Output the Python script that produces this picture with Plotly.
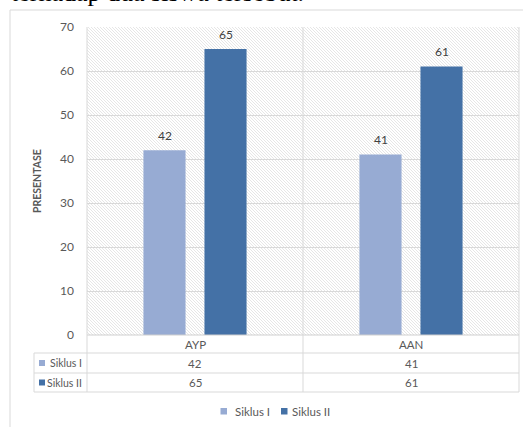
import plotly.graph_objects as go

# ---- data ----
students = ["AYP", "AAN"]
series_names = ["Siklus I", "Siklus II"]
siklus_1 = [42, 41]
siklus_2 = [65, 61]
y_ticks = [0, 10, 20, 30, 40, 50, 60, 70]
y_title = "PRESENTASE"
caption = "terhadap dua siswa tersebut."

colors = ["#97abd3", "#4471a6"]
values = [siklus_1, siklus_2]

W, H = 523, 427
ML, MR, MT, MB = 87, 4, 27, 92
PW, PH = W - ML - MR, H - MT - MB
GRID = "#d9d9d9"
TXT = "#595959"
FONT = "Lato"


def fx(px):
    return (px - ML) / PW


def fy(py):
    return (H - MB - py) / PH


fig = go.Figure()
for name, vals, col in zip(series_names, values, colors):
    fig.add_trace(go.Bar(x=students, y=vals, name=name, marker=dict(color=col, line=dict(width=0)),
                         showlegend=False, hoverinfo="x+y+name"))

shapes = []
annotations = []

# diagonal hatch behind the plot area
left, right, top, bottom = ML, W - MR, MT, H - MB
step = 3
parts = []
c = left - bottom
while c <= right - top:
    x0 = max(left, top + c)
    x1 = min(right, bottom + c)
    if x1 > x0:
        parts.append(f"M{fx(x0):.5f},{fy(x0 - c):.5f} L{fx(x1):.5f},{fy(x1 - c):.5f}")
    c += step
shapes.append(dict(type="path", xref="paper", yref="paper", path=" ".join(parts),
                   line=dict(color="#e6e6e6", width=1), layer="below"))

# outer frame of the chart
shapes.append(dict(type="path", xref="paper", yref="paper",
                   path=f"M{fx(10)},{fy(H + 5)} L{fx(10)},{fy(10)} L{fx(W + 5)},{fy(10)}",
                   line=dict(color=GRID, width=1)))

# table grid
row_y = [335, 353, 373, 392]
col_x = [34, 87, 303, 519]


def hline(y, x0, x1, color=GRID):
    shapes.append(dict(type="line", xref="paper", yref="paper", x0=fx(x0), x1=fx(x1),
                       y0=fy(y), y1=fy(y), line=dict(color=color, width=1)))


def vline(x, y0, y1):
    shapes.append(dict(type="line", xref="paper", yref="paper", x0=fx(x), x1=fx(x),
                       y0=fy(y0), y1=fy(y1), line=dict(color=GRID, width=1)))


hline(row_y[0], col_x[1], col_x[3], "#cfcfcf")
for y in row_y[1:]:
    hline(y, col_x[0], col_x[3])
vline(col_x[0], row_y[1], row_y[3])
for x in col_x[1:]:
    vline(x, top, row_y[3])

cell_font = dict(family=FONT, size=11.5, color=TXT)
label_font = dict(family=FONT, size=10.5, color=TXT)
col_centers = [(col_x[1] + col_x[2]) / 2, (col_x[2] + col_x[3]) / 2]
row_centers = [(row_y[i] + row_y[i + 1]) / 2 for i in range(3)]

for cx, s in zip(col_centers, students):
    annotations.append(dict(x=fx(cx), y=fy(row_centers[0]), xref="paper", yref="paper", text=s,
                            showarrow=False, font=cell_font, xanchor="center", yanchor="middle"))
for r, (name, vals, col) in enumerate(zip(series_names, values, colors)):
    ry = row_centers[r + 1]
    for cx, v in zip(col_centers, vals):
        annotations.append(dict(x=fx(cx), y=fy(ry), xref="paper", yref="paper", text=str(v),
                                showarrow=False, font=cell_font, xanchor="center", yanchor="middle"))
    annotations.append(dict(x=fx(83.5), y=fy(ry), xref="paper", yref="paper", text=name,
                            showarrow=False, font=label_font, xanchor="right", yanchor="middle"))
    shapes.append(dict(type="rect", xref="paper", yref="paper", x0=fx(39), x1=fx(45),
                       y0=fy(ry - 3), y1=fy(ry + 3), fillcolor=col, line=dict(width=0)))

# value labels above bars
offsets = [-30.5, 30.5]
for vals, off in zip(values, offsets):
    for s, v in zip(students, vals):
        annotations.append(dict(x=s, y=v, xref="x", yref="y", text=str(v), showarrow=False,
                                xshift=off, yshift=15, font=dict(family=FONT, size=12, color="#404040"),
                                yanchor="middle"))

# legend
leg_items = [(220.5, 233, series_names[0], colors[0]), (281, 290, series_names[1], colors[1])]
for sx, tx, name, col in leg_items:
    shapes.append(dict(type="rect", xref="paper", yref="paper", x0=fx(sx), x1=fx(sx + 6.5),
                       y0=fy(408), y1=fy(414.5), fillcolor=col, line=dict(width=0)))
    annotations.append(dict(x=fx(tx), y=fy(411), xref="paper", yref="paper", text=name,
                            showarrow=False, font=cell_font, xanchor="left", yanchor="middle"))

# axis title
annotations.append(dict(x=fx(37), y=fy(181), xref="paper", yref="paper", text=f"<b>{y_title}</b>",
                        textangle=-90, showarrow=False, font=dict(family=FONT, size=10.5, color=TXT),
                        xanchor="center", yanchor="middle"))

# caption line above the chart
annotations.append(dict(x=fx(9), y=fy(-8), xref="paper", yref="paper", text=caption,
                        showarrow=False, font=dict(family="Liberation Serif", size=26, color="black"),
                        xanchor="left", yanchor="middle"))

fig.update_layout(
    width=W, height=H,
    margin=dict(l=ML, r=MR, t=MT, b=MB, pad=0),
    paper_bgcolor="white", plot_bgcolor="rgba(0,0,0,0)",
    barmode="group", bargap=0.435, bargroupgap=0.31,
    font=dict(family=FONT, color=TXT),
    xaxis=dict(showticklabels=False, showgrid=False, zeroline=False, showline=False, ticks=""),
    yaxis=dict(range=[0, 70], tickvals=y_ticks, showgrid=True, gridcolor=GRID, gridwidth=1,
               zeroline=False, showline=False, ticks="", ticklabelstandoff=12,
               tickfont=dict(family=FONT, size=12, color=TXT)),
    shapes=shapes, annotations=annotations,
)

fig.write_html("out.html")
